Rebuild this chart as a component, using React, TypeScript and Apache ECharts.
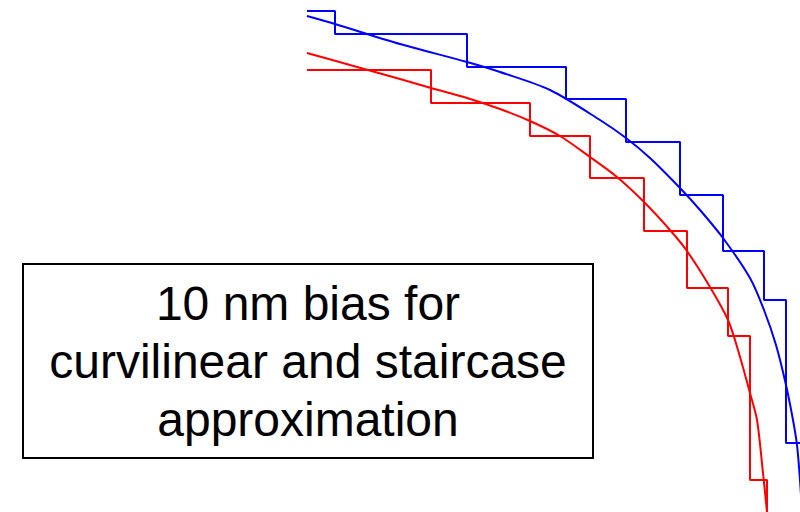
import React, { useEffect, useRef } from "react";
import * as echarts from "echarts";

// Staircase approximations (step corners, coordinate units of the drawing)
const blueStepX = [307, 335, 467, 566, 626, 680, 723, 764, 786, 800];
const blueStepY = [11, 34, 67, 99, 142, 195, 251, 300, 443, 443];
const redStepX = [307, 431, 530, 590, 644, 687, 728, 750, 767];
const redStepY = [70, 103, 136, 178, 231, 288, 336, 480, 512];

// Curvilinear contours
const blueCurveX = [307, 335, 400, 467, 500, 550, 600, 626, 650, 680, 700, 723, 750, 764, 776, 786, 793, 797, 800, 802];
const blueCurveY = [16, 24, 44, 62, 72, 90, 120, 138, 158, 188, 210, 238, 278, 310, 345, 385, 420, 445, 480, 512];
const redCurveX = [307, 350, 400, 431, 467, 500, 530, 560, 590, 617, 644, 670, 687, 710, 728, 738, 750, 757, 763, 767];
const redCurveY = [53, 65, 79, 88, 98, 109, 121, 136, 157, 177, 202, 230, 251, 287, 320, 350, 393, 420, 473, 512];

const labelLines = ["10 nm bias for", "curvilinear and staircase", "approximation"];

const zip = (xs: number[], ys: number[]) => xs.map((x, i) => [x, ys[i]]);

export default function App() {
  const ref = useRef<HTMLDivElement>(null);
  useEffect(() => {
    document.body.style.margin = "0";
    const chart = echarts.init(ref.current!, null, { renderer: "svg" });
    const lineBase = { type: "line", showSymbol: false, symbol: "none", silent: true, clip: true };
    chart.setOption({
      animation: false,
      grid: { left: 0, right: 0, top: 0, bottom: 0 },
      xAxis: { type: "value", min: 0, max: 800, show: false },
      yAxis: { type: "value", min: 0, max: 512, inverse: true, show: false },
      series: [
        { ...lineBase, data: zip(blueStepX, blueStepY), step: "end", lineStyle: { color: "#0000ff", width: 2 } },
        { ...lineBase, data: zip(blueCurveX, blueCurveY), smooth: 0.3, lineStyle: { color: "#0000ff", width: 2 } },
        { ...lineBase, data: zip(redStepX, redStepY), step: "end", lineStyle: { color: "#ff0000", width: 2 } },
        { ...lineBase, data: zip(redCurveX, redCurveY), smooth: 0.3, lineStyle: { color: "#ff0000", width: 2 } },
      ],
      graphic: [
        {
          type: "rect",
          shape: { x: 23, y: 264, width: 570, height: 194 },
          style: { fill: "#ffffff", stroke: "#000000", lineWidth: 2 },
        },
        {
          type: "text",
          x: 308,
          y: 361,
          style: {
            text: labelLines.join("\n"),
            font: '48px "Liberation Sans", Arial, sans-serif',
            fill: "#000000",
            align: "center",
            verticalAlign: "middle",
            lineHeight: 58,
          },
        },
      ],
    });
    return () => chart.dispose();
  }, []);
  return <div ref={ref} style={{ width: 800, height: 512 }} />;
}
